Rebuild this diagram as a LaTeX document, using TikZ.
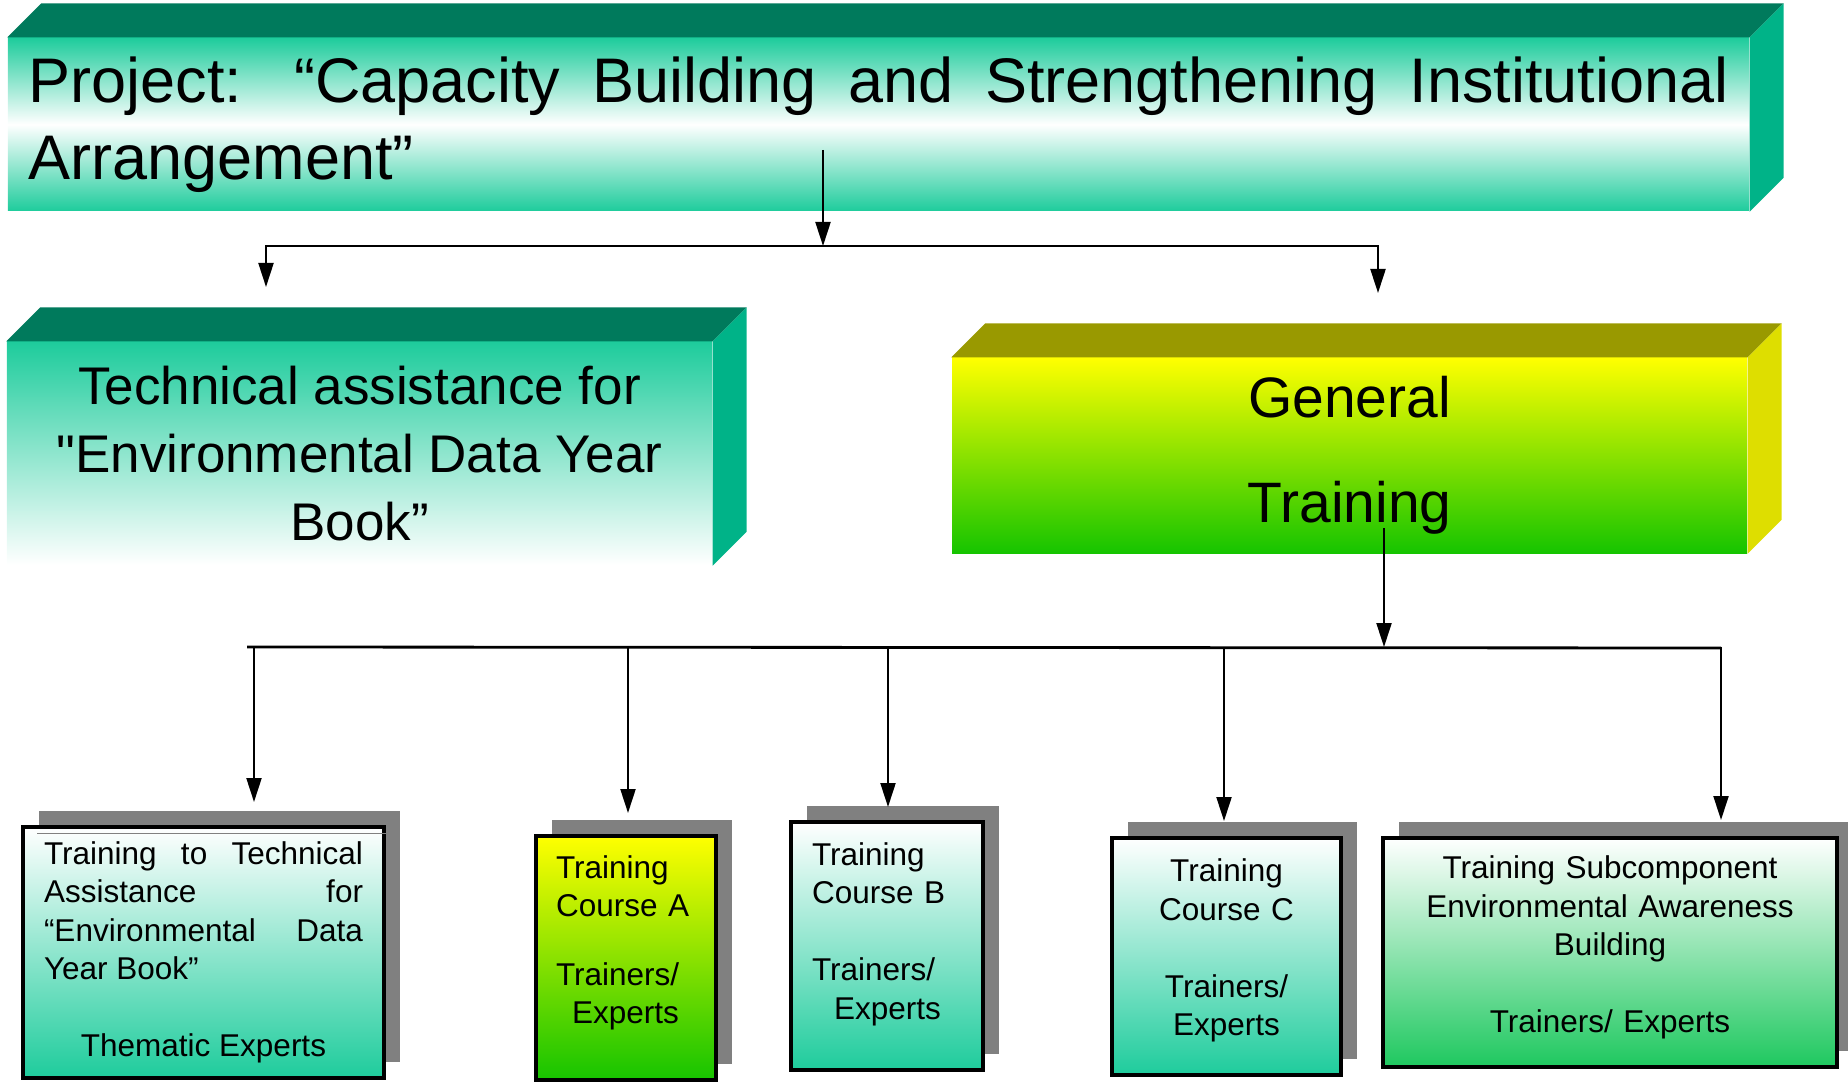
\documentclass[tikz,border=0pt]{standalone}
\usepackage{fontspec}
\setmainfont{Liberation Sans}
\newfontfamily\plainsans{Liberation Sans}
\usepackage{xcolor}
\usetikzlibrary{calc, arrows.meta, shadows}

\hyphenpenalty=10000
\tolerance=10000
\hbadness=10000

\definecolor{prjteal}{RGB}{30,204,156}
\definecolor{prjtop}{RGB}{0,122,92}
\definecolor{prjside}{RGB}{0,179,136}
\definecolor{genyellow}{RGB}{255,255,0}
\definecolor{gengreen}{RGB}{22,196,0}
\definecolor{gentop}{RGB}{153,153,0}
\definecolor{genside}{RGB}{222,222,0}
\definecolor{subgreen}{RGB}{30,200,95}
\definecolor{shadowgray}{RGB}{128,128,128}

\tikzset{
    slab/.style={rectangle, inner sep=0pt, align=center},
    projectbox/.style={slab, top color=prjteal, bottom color=prjteal, middle color=white, minimum width=17.41cm, minimum height=1.73cm, text width=17cm, align=justify, font=\fontsize{0.63cm}{0.77cm}\selectfont},
    techbox/.style={slab, top color=prjteal, bottom color=white, minimum width=7.05cm, minimum height=2.23cm, font=\fontsize{0.53cm}{0.68cm}\selectfont},
    genbox/.style={slab, top color=genyellow, bottom color=gengreen, minimum width=7.95cm, minimum height=1.95cm, font=\fontsize{0.57cm}{1.05cm}\selectfont},
    course/.style={rectangle, draw=black, line width=0.9pt, inner sep=0pt, top color=white, bottom color=prjteal, font=\fontsize{0.315cm}{0.385cm}\selectfont, general shadow={fill=shadowgray, shadow xshift=0.16cm, shadow yshift=0.16cm}},
    link/.style={line width=0.6pt},
    arrow/.style={-{Triangle[width=1.5mm,length=2.4mm]}, line width=0.6pt}
}

\begin{document}
\begin{tikzpicture}
    \useasboundingbox (0,0) rectangle (18.48,10.82);

    % Top level
    \node[projectbox] (prj) at (8.785,9.575) {Project: “Capacity Building and Strengthening Institutional Arrangement”};

    % Second level
    \node[techbox] (tech) at (3.595,6.285) {Technical assistance for\\{\plainsans"}Environmental Data Year\\Book”};
    \node[genbox] (gen) at (13.495,6.265) {General\\Training};

    % 3D faces
    \foreach \n/\tc/\sc in {prj/prjtop/prjside, tech/prjtop/prjside, gen/gentop/genside} {
        \fill[\tc] (\n.north west) -- ++(0.34,0.34) -- ($(\n.north east)+(0.34,0.34)$) -- (\n.north east) -- cycle;
        \fill[\sc] (\n.north east) -- ++(0.34,0.34) -- ($(\n.south east)+(0.34,0.34)$) -- (\n.south east) -- cycle;
    }

    % Courses
    \node[course, minimum width=3.61cm, minimum height=2.51cm, text width=3.19cm, align=justify] (b1) at (2.035,1.295) {Training to Technical\linebreak Assistance for\linebreak “Environmental Data\linebreak Year Book”\par\vspace{0.385cm}\centerline{Thematic Experts}};
    \node[course, top color=genyellow, bottom color=gengreen, minimum width=1.80cm, minimum height=2.44cm, text width=1.40cm, align=left] (b2) at (6.26,1.24) {Training\\Course A\\[0.3cm]Trainers/\\\leavevmode\kern0.16cm Experts\par\kern0.3cm};
    \node[course, minimum width=1.92cm, minimum height=2.48cm, text width=1.50cm, align=left] (b3) at (8.87,1.36) {Training\\Course B\\[0.385cm]Trainers/\\\leavevmode\kern0.22cm Experts\par\kern0.24cm};
    \node[course, minimum width=2.29cm, minimum height=2.37cm, text width=2.0cm, align=center] (b4) at (12.265,1.255) {Training\\Course C\\[0.385cm]Trainers/\\Experts\par\kern0.12cm};
    \node[course, bottom color=subgreen, minimum width=4.54cm, minimum height=2.29cm, text width=4.2cm, align=center] (b5) at (16.10,1.295) {Training Subcomponent\\Environmental Awareness\\Building\\[0.385cm]Trainers/ Experts\par\kern0.1cm};
    \draw[black!50, line width=0.4pt] ([xshift=0.16cm, yshift=-0.08cm]b1.north west) -- ([yshift=-0.08cm]b1.north east);

    % Connectors
    \coordinate (prj-out) at (8.23,9.32);
    \coordinate (top-bus) at (8.23,8.36);
    \coordinate (tech-in) at (2.66,7.95);
    \coordinate (gen-in) at (13.78,7.89);
    \coordinate (gen-out) at (13.84,5.54);
    \coordinate (bus-c) at (13.84,4.35);
    \coordinate (bus-l) at (2.47,4.35);
    \coordinate (bus-r) at (17.21,4.34);
    \coordinate (t1) at (2.54,2.80);
    \coordinate (t2) at (6.28,2.69);
    \coordinate (t3) at (8.88,2.75);
    \coordinate (t4) at (12.24,2.61);
    \coordinate (t5) at (17.21,2.62);

    \draw[arrow] (prj-out) -- (top-bus);
    \draw[arrow] (top-bus) -| (tech-in);
    \draw[arrow] (top-bus) -| (gen-in);
    \draw[arrow] (gen-out) -- (bus-c);
    \draw[link, line width=0.8pt] (bus-l) -- (bus-r);
    \foreach \t in {t1,t2,t3,t4,t5}
        \draw[arrow] (bus-l -| \t) -- (\t);
\end{tikzpicture}
\end{document}
